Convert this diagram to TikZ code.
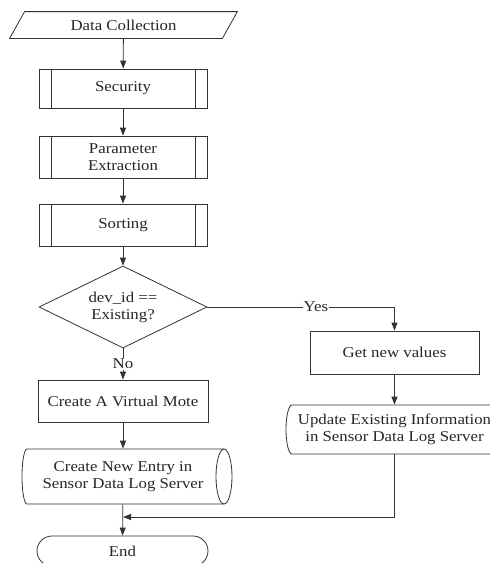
\documentclass[tikz,border=0pt]{standalone}
\usepackage{fontspec}
\setmainfont{Liberation Serif}[FakeStretch=1.12]
\usetikzlibrary{shapes.geometric,arrows.meta}
\begin{document}
\begin{tikzpicture}[x=1pt,y=-1pt,
  line width=0.8pt,
  every node/.style={font=\fontsize{15}{17}\selectfont, text=black!85, align=center, inner sep=0pt},
  ln/.style={draw=black!80, line width=0.8pt},
  arr/.style={ln, -{Triangle[length=8pt,width=6pt]}},
  plain/.style={ln, rectangle, minimum width=#1},
  ppro/.style={ln, rectangle, minimum width=168pt,
    path picture={\draw[black!80,line width=0.8pt]
      ([xshift=12.5pt]path picture bounding box.north west) -- ([xshift=12.5pt]path picture bounding box.south west)
      ([xshift=-12pt]path picture bounding box.north east) -- ([xshift=-12pt]path picture bounding box.south east);}},
  lbl/.style={fill=white, inner sep=1pt}
]
\clip (0,0) rectangle (490,563);
\fill[white] (0,0) rectangle (490,563);

% Data Collection (parallelogram)
\node (dc) at (123.5,25) [minimum width=212pt, minimum height=26pt] {Data Collection};
\draw[ln] ([xshift=-7.5pt]dc.south west) -- ([xshift=-7.5pt]dc.south east)
  -- ([xshift=7.5pt]dc.north east) -- ([xshift=7.5pt]dc.north west) -- cycle;

% predefined processes
\node (sec) at (123,88.5) [ppro, minimum height=39pt] {Security};
\node (pe) at (123,157) [ppro, minimum height=42pt] {Parameter\\Extraction};
\node (sort) at (123,225) [ppro, minimum height=42pt] {Sorting};

% decision
\node (dia) at (123,307) [ln, diamond, aspect=2.05, minimum width=168pt, minimum height=82pt] {dev\_id ==\\Existing?};

% left branch
\node (cvm) at (123,401) [plain=170pt, minimum height=42pt] {Create A Virtual Mote};

\node (cne) at (123,476.5) [minimum width=200pt, minimum height=55pt] {Create New Entry in\\Sensor Data Log Server};
\draw[ln] (27,449) -- (224,449)
  (27,504) -- (224,504)
  (27,449) arc[start angle=270, end angle=90, x radius=5, y radius=27.5];
\draw[ln] (224,476.5) ellipse[x radius=8, y radius=27.5];

\node (end) at (122.5,551) [ln, rectangle, rounded corners=15pt, minimum width=171pt, minimum height=30pt] {End};

% right branch
\node (gnv) at (394.5,352.5) [plain=169pt, minimum height=43pt] {Get new values};
\node (upd) at (394.5,429.5) [minimum width=210pt, minimum height=49pt] {Update Existing Information\\in Sensor Data Log Server};
\draw[ln] (505,405) -- (292,405)
  arc[start angle=270, end angle=90, x radius=6, y radius=24.5] -- (505,454);

\coordinate (m) at (123,517);

% connectors
\draw[arr] (dc) -- (sec);
\draw[arr] (sec) -- (pe);
\draw[arr] (pe) -- (sort);
\draw[arr] (sort) -- (dia);
\draw[arr] (dia) -- node[lbl] {No} (cvm);
\draw[arr] (cvm) -- (cne);
\draw[arr] (cne) -- (end);
\draw[arr] (dia.east) -| node[lbl, pos=0.29] {Yes} (gnv.north);
\draw[arr] (gnv) -- (upd);
\draw[arr] (upd.south) |- (m);
\end{tikzpicture}
\end{document}
